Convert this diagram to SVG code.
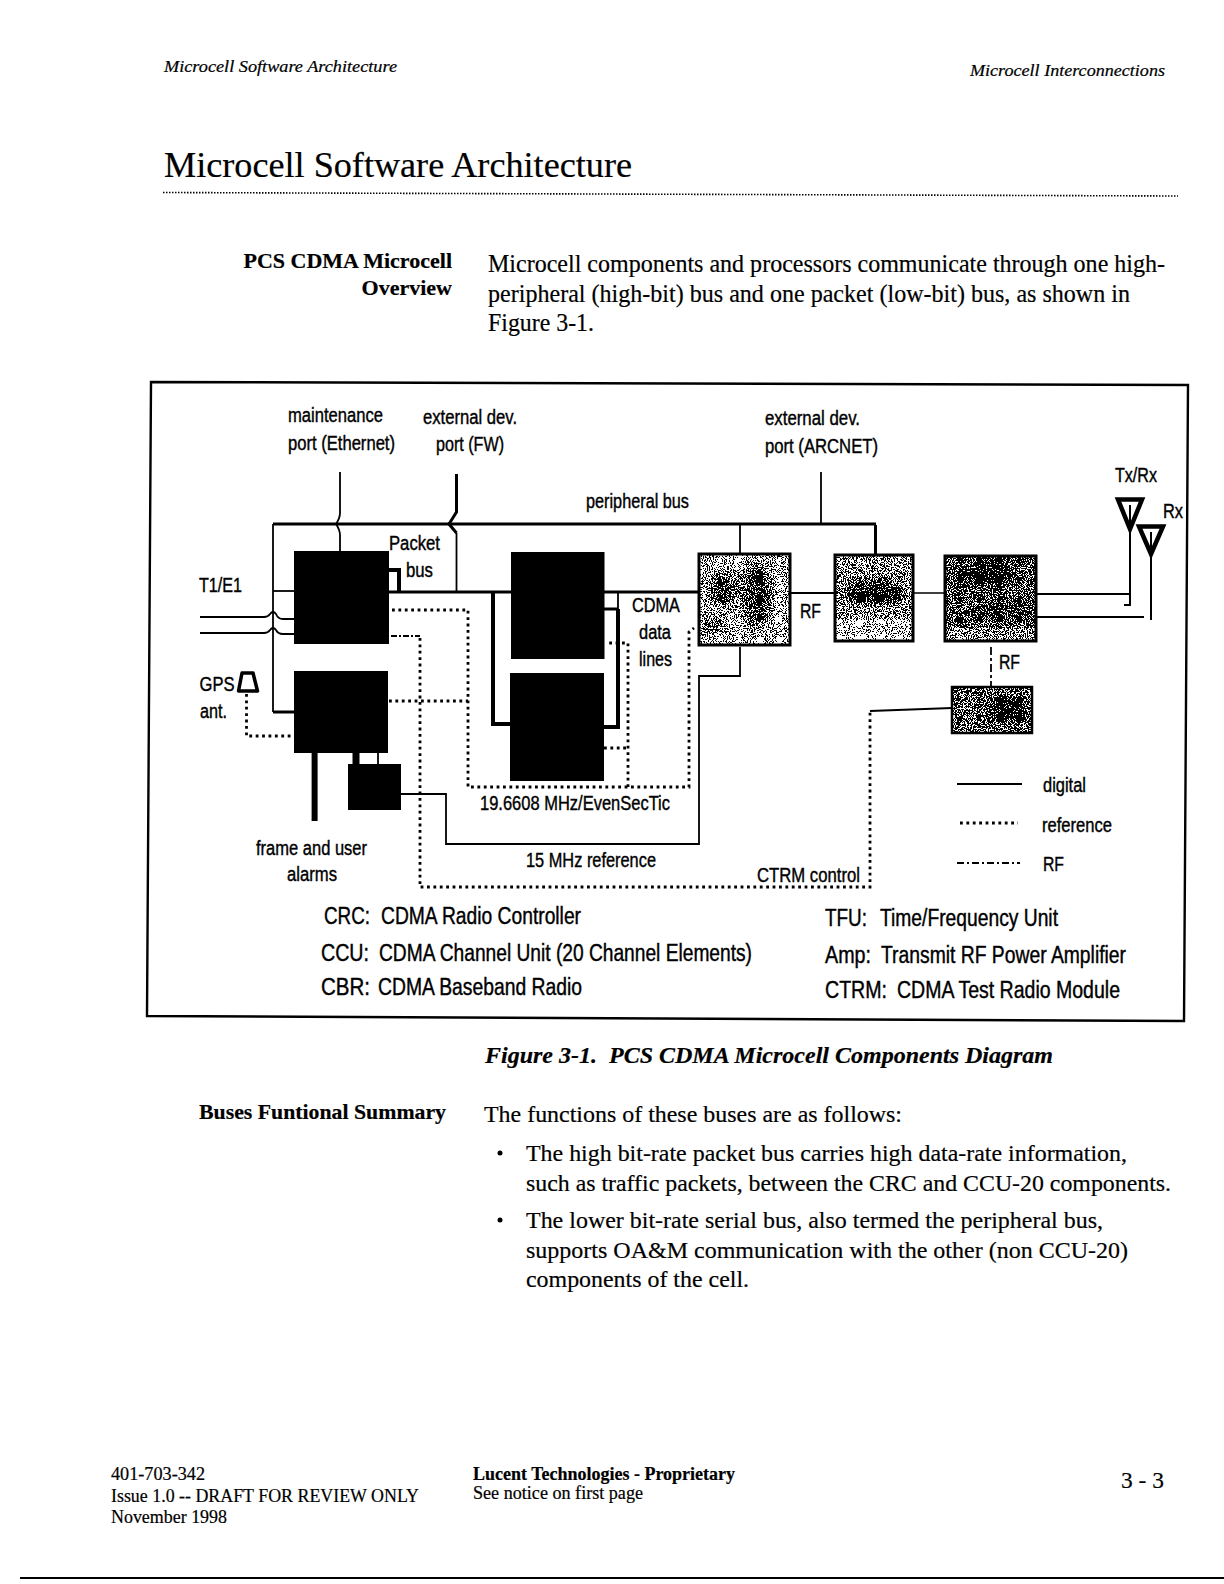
<svg xmlns="http://www.w3.org/2000/svg" width="1224" height="1584" viewBox="0 0 1224 1584">
<defs>
<style>
text{fill:#000;white-space:pre}
.s{font-family:"Liberation Serif","Times New Roman",serif;stroke:#000;stroke-width:.2}
.h{font-family:"Liberation Sans",Arial,sans-serif;font-size:20px;stroke:#000;stroke-width:.4}
.l{font-family:"Liberation Sans",Arial,sans-serif;font-size:23px;stroke:#000;stroke-width:.4}
.w{fill:none;stroke:#000;stroke-linejoin:miter}
.t1{stroke-width:1.5}.t2{stroke-width:1.8}.t3{stroke-width:3}.t4{stroke-width:4}
.dot{fill:none;stroke:#000;stroke-width:2.8;stroke-dasharray:2.8 3.6}
.blk{fill:#000}
.frame{fill:none;stroke:#000;stroke-width:2.4}
</style>
<filter id="stipple" x="0" y="0" width="1" height="1" color-interpolation-filters="sRGB">
<feTurbulence type="fractalNoise" baseFrequency="0.95" numOctaves="1" seed="4" result="n"/>
<feColorMatrix in="n" type="matrix" values="3 0 0 0 -1 3 0 0 0 -1 3 0 0 0 -1 0 0 0 0 1" result="g"/>
<feComposite in="SourceGraphic" in2="g" operator="arithmetic" k1="0" k2="1" k3="1" k4="-0.5" result="sum"/>
<feComponentTransfer in="sum">
<feFuncR type="discrete" tableValues="0 1"/>
<feFuncG type="discrete" tableValues="0 1"/>
<feFuncB type="discrete" tableValues="0 1"/>
<feFuncA type="linear" slope="0" intercept="1"/>
</feComponentTransfer>
</filter>
<filter id="soft"><feGaussianBlur stdDeviation="5"/></filter>
</defs>
<rect width="1224" height="1584" fill="#fff"/>

<g id="page-header">
<text class="s" x="164" y="72" font-size="16.5" font-style="italic" textLength="233" lengthAdjust="spacingAndGlyphs">Microcell Software Architecture</text>
<text class="s" x="970" y="76" font-size="16.5" font-style="italic" textLength="195" lengthAdjust="spacingAndGlyphs">Microcell Interconnections</text>
<text class="s" x="164" y="177" font-size="36" textLength="468" lengthAdjust="spacingAndGlyphs">Microcell Software Architecture</text>
<path d="M163 192.500L1178 196" fill="none" stroke="#000" stroke-width="1.600" stroke-dasharray="1.500 1.500"/>
<text class="s" x="452" y="268" font-size="22" font-weight="bold" text-anchor="end">PCS CDMA Microcell</text>
<text class="s" x="452" y="295" font-size="22" font-weight="bold" text-anchor="end">Overview</text>
<text class="s" x="488" y="272" font-size="25" textLength="677" lengthAdjust="spacingAndGlyphs">Microcell components and processors communicate through one high-</text>
<text class="s" x="488" y="302" font-size="25" textLength="642" lengthAdjust="spacingAndGlyphs">peripheral (high-bit) bus and one packet (low-bit) bus, as shown in</text>
<text class="s" x="488" y="331" font-size="25" textLength="106" lengthAdjust="spacingAndGlyphs">Figure 3-1.</text>
</g>

<path id="figure-frame" class="frame" d="M151 382L1188 385L1184 1021L147 1016Z"/>

<g id="connectors">
<path class="w t3" d="M273 524H876"/>
<path class="w t2" d="M273 524V712"/><path class="w t3" d="M273 712H294"/>
<path class="w t2" d="M273 591H294"/>
<path class="w t2" d="M200 617H264Q268 617 270 614Q273 610 276 614Q278 619 283 619H294"/>
<path class="w t2" d="M200 633H264Q268 633 270 630Q273 626 276 630Q278 634 283 634H294"/>
<path class="w t2" d="M340 472V513Q340 518 336 524Q340 530 340 535V551"/>
<path class="w t3" d="M456.500 474V512L449 524L456.500 533"/><path class="w t2" d="M456.500 533V591"/>
<path class="w t3" d="M389 592H698"/>
<path class="w t4" d="M389 570H399V592"/>
<path class="w t4" d="M493 592V724H511"/>
<path class="w t2" d="M604 592H618V609"/><path class="w t3" d="M604 609H618"/><path class="w t4" d="M618 609V727H604"/>
<path class="dot" d="M392 610H468V787H689V632L694 628"/>
<path class="dot" d="M389 701H468"/>
<path class="w t2" d="M391 636H420" stroke-dasharray="6 2 2 2"/>
<path class="dot" d="M420 638V887H870V711"/>
<path class="w t2" d="M870 711L952 708"/>
<path class="dot" d="M628 787V643H609"/>
<path class="dot" d="M604 748H628"/>
<path class="w" stroke-width="7" d="M356 753V764"/>
<path class="w t2" d="M378 753V764"/>
<path class="w" stroke-width="6" d="M314.600 753V821"/>
<path class="dot" d="M246.500 694V736H294"/>
<path class="w t2" d="M401 794H446V844H699V676H740V647"/>
<path class="w t2" d="M740 525V553"/>
<path class="w t3" d="M875.500 525V554"/>
<path class="w t2" d="M821 472V525"/>
<path class="w t2" d="M791 593H834"/>
<path class="w t1" d="M913 593H944"/>
<path class="w t2" d="M1036 594H1130V605H1124"/>
<path class="w t2" d="M1036 617H1144"/>
<path class="w t2" d="M991 647V687" stroke-dasharray="8 3 3 3"/>
</g>

<g id="crc"><rect class="blk" x="294" y="551" width="95" height="93"/></g>
<g id="cbr"><rect class="blk" x="294" y="671" width="94" height="82"/></g>
<g id="ccu-1"><rect class="blk" x="511" y="552" width="93.500" height="107"/></g>
<g id="ccu-2"><rect class="blk" x="510" y="673" width="94" height="108"/></g>
<g id="alarm-box"><rect class="blk" x="348" y="764" width="53" height="46"/></g>

<g id="gps-antenna"><path d="M242 673H253L257.500 691H238.500Z" fill="#fff" stroke="#000" stroke-width="3.500" stroke-linejoin="round"/></g>

<g id="tfu">
<g filter="url(#stipple)">
<rect x="699" y="554" width="91" height="91" fill="#a0a0a0"/>
<ellipse cx="725" cy="590" rx="16" ry="16" fill="#484848" filter="url(#soft)"/>
<ellipse cx="757" cy="595" rx="14" ry="32" fill="#404040" filter="url(#soft)"/>
<ellipse cx="712" cy="625" rx="12" ry="8" fill="#555" filter="url(#soft)"/>
</g>
<rect x="699" y="554" width="91" height="91" fill="none" stroke="#000" stroke-width="3"/>
</g>
<g id="amp">
<g filter="url(#stipple)">
<rect x="835" y="555" width="78" height="86" fill="#8a8a8a"/>
<rect x="835" y="620" width="78" height="21" fill="#b8b8b8"/>
<ellipse cx="874" cy="592" rx="32" ry="12" fill="#303030" filter="url(#soft)"/>
<text x="874" y="600" font-family="'Liberation Sans',Arial,sans-serif" font-size="24" text-anchor="middle">Amp</text>
</g>
<rect x="835" y="555" width="78" height="86" fill="none" stroke="#000" stroke-width="3"/>
</g>
<g id="filter-combiner">
<g filter="url(#stipple)">
<rect x="945" y="556" width="91" height="85" fill="#5c5c5c"/>
<rect x="945" y="628" width="91" height="13" fill="#909090"/>
<ellipse cx="985" cy="574" rx="30" ry="14" fill="#282828" filter="url(#soft)"/>
<ellipse cx="1000" cy="612" rx="34" ry="8" fill="#383838" filter="url(#soft)"/>
</g>
<rect x="945" y="556" width="91" height="85" fill="none" stroke="#000" stroke-width="3"/>
</g>
<g id="ctrm">
<g filter="url(#stipple)">
<rect x="952" y="687" width="80" height="46" fill="#646464"/>
<ellipse cx="1008" cy="710" rx="18" ry="11" fill="#181818" filter="url(#soft)"/>
</g>
<rect x="952" y="687" width="80" height="46" fill="none" stroke="#000" stroke-width="2.500"/>
</g>

<g id="tx-rx-antenna">
<path d="M1118 499.500H1142L1130 529Z" fill="#fff" stroke="#000" stroke-width="4.500"/>
<path d="M1130 505V605" fill="none" stroke="#000" stroke-width="2"/>
</g>
<g id="rx-antenna">
<path d="M1139 526.500H1163L1151 554Z" fill="#fff" stroke="#000" stroke-width="4.500"/>
<path d="M1151 532V620" fill="none" stroke="#000" stroke-width="2"/>
</g>

<g id="labels">
<text class="h" x="288" y="422" textLength="95" lengthAdjust="spacingAndGlyphs">maintenance</text>
<text class="h" x="288" y="450" textLength="107" lengthAdjust="spacingAndGlyphs">port (Ethernet)</text>
<text class="h" x="423" y="424" textLength="94" lengthAdjust="spacingAndGlyphs">external dev.</text>
<text class="h" x="436" y="451" textLength="68" lengthAdjust="spacingAndGlyphs">port (FW)</text>
<text class="h" x="586" y="508" textLength="103" lengthAdjust="spacingAndGlyphs">peripheral bus</text>
<text class="h" x="765" y="425" textLength="95" lengthAdjust="spacingAndGlyphs">external dev.</text>
<text class="h" x="765" y="453" textLength="113" lengthAdjust="spacingAndGlyphs">port (ARCNET)</text>
<text class="h" x="1115" y="482" textLength="42" lengthAdjust="spacingAndGlyphs">Tx/Rx</text>
<text class="h" x="1163" y="518" textLength="20" lengthAdjust="spacingAndGlyphs">Rx</text>
<text class="h" x="389" y="550" textLength="51" lengthAdjust="spacingAndGlyphs">Packet</text>
<text class="h" x="406" y="577" textLength="27" lengthAdjust="spacingAndGlyphs">bus</text>
<text class="h" x="199" y="592" textLength="43" lengthAdjust="spacingAndGlyphs">T1/E1</text>
<text class="h" x="199.500" y="691" textLength="35" lengthAdjust="spacingAndGlyphs">GPS</text>
<text class="h" x="200" y="718" textLength="27" lengthAdjust="spacingAndGlyphs">ant.</text>
<text class="h" x="632" y="612" textLength="48" lengthAdjust="spacingAndGlyphs">CDMA</text>
<text class="h" x="639" y="639" textLength="32" lengthAdjust="spacingAndGlyphs">data</text>
<text class="h" x="639" y="666" textLength="33" lengthAdjust="spacingAndGlyphs">lines</text>
<text class="h" x="480" y="810" textLength="190" lengthAdjust="spacingAndGlyphs">19.6608 MHz/EvenSecTic</text>
<text class="h" x="526" y="867" textLength="130" lengthAdjust="spacingAndGlyphs">15 MHz reference</text>
<text class="h" x="256" y="855" textLength="111" lengthAdjust="spacingAndGlyphs">frame and user</text>
<text class="h" x="287" y="881" textLength="50" lengthAdjust="spacingAndGlyphs">alarms</text>
<text class="h" x="800" y="618" textLength="21" lengthAdjust="spacingAndGlyphs">RF</text>
<text class="h" x="999" y="669" textLength="21" lengthAdjust="spacingAndGlyphs">RF</text>
<text class="h" x="757" y="882" textLength="103" lengthAdjust="spacingAndGlyphs">CTRM control</text>
</g>

<g id="legend">
<path class="w t2" d="M957 784H1022"/>
<path class="dot" d="M960 823H1018"/>
<path class="w t2" d="M957 863H1020" stroke-dasharray="7 3 2 3"/>
<text class="h" x="1043" y="792" textLength="43" lengthAdjust="spacingAndGlyphs">digital</text>
<text class="h" x="1042" y="832" textLength="70" lengthAdjust="spacingAndGlyphs">reference</text>
<text class="h" x="1043" y="871" textLength="21" lengthAdjust="spacingAndGlyphs">RF</text>
<text class="l" x="324" y="924" textLength="46" lengthAdjust="spacingAndGlyphs">CRC:</text>
<text class="l" x="381" y="924" textLength="200" lengthAdjust="spacingAndGlyphs">CDMA Radio Controller</text>
<text class="l" x="321" y="961" textLength="48" lengthAdjust="spacingAndGlyphs">CCU:</text>
<text class="l" x="379" y="961" textLength="373" lengthAdjust="spacingAndGlyphs">CDMA Channel Unit (20 Channel Elements)</text>
<text class="l" x="321" y="995" textLength="49" lengthAdjust="spacingAndGlyphs">CBR:</text>
<text class="l" x="378" y="995" textLength="204" lengthAdjust="spacingAndGlyphs">CDMA Baseband Radio</text>
<text class="l" x="825" y="926" textLength="42" lengthAdjust="spacingAndGlyphs">TFU:</text>
<text class="l" x="880" y="926" textLength="178" lengthAdjust="spacingAndGlyphs">Time/Frequency Unit</text>
<text class="l" x="825" y="963" textLength="46" lengthAdjust="spacingAndGlyphs">Amp:</text>
<text class="l" x="881" y="963" textLength="245" lengthAdjust="spacingAndGlyphs">Transmit RF Power Amplifier</text>
<text class="l" x="825" y="998" textLength="62" lengthAdjust="spacingAndGlyphs">CTRM:</text>
<text class="l" x="897" y="998" textLength="223" lengthAdjust="spacingAndGlyphs">CDMA Test Radio Module</text>
</g>

<g id="page-body">
<text class="s" x="485" y="1063" font-size="24" font-weight="bold" font-style="italic" textLength="568" lengthAdjust="spacingAndGlyphs">Figure 3-1.  PCS CDMA Microcell Components Diagram</text>
<text class="s" x="199" y="1119" font-size="22" font-weight="bold" textLength="247" lengthAdjust="spacingAndGlyphs">Buses Funtional Summary</text>
<text class="s" x="484" y="1122" font-size="24" textLength="418" lengthAdjust="spacingAndGlyphs">The functions of these buses are as follows:</text>
<circle cx="500" cy="1153" r="2.500"/>
<circle cx="500" cy="1220" r="2.500"/>
<text class="s" x="526" y="1161" font-size="24" textLength="601" lengthAdjust="spacingAndGlyphs">The high bit-rate packet bus carries high data-rate information,</text>
<text class="s" x="526" y="1191" font-size="24" textLength="645" lengthAdjust="spacingAndGlyphs">such as traffic packets, between the CRC and CCU-20 components.</text>
<text class="s" x="526" y="1228" font-size="24" textLength="577" lengthAdjust="spacingAndGlyphs">The lower bit-rate serial bus, also termed the peripheral bus,</text>
<text class="s" x="526" y="1258" font-size="24" textLength="602" lengthAdjust="spacingAndGlyphs">supports OA&amp;M communication with the other (non CCU-20)</text>
<text class="s" x="526" y="1287" font-size="24" textLength="223" lengthAdjust="spacingAndGlyphs">components of the cell.</text>
</g>

<g id="page-footer">
<text class="s" x="111" y="1480" font-size="18" textLength="94" lengthAdjust="spacingAndGlyphs">401-703-342</text>
<text class="s" x="111" y="1502" font-size="18" textLength="308" lengthAdjust="spacingAndGlyphs">Issue 1.0 -- DRAFT FOR REVIEW ONLY</text>
<text class="s" x="111" y="1523" font-size="18" textLength="116" lengthAdjust="spacingAndGlyphs">November 1998</text>
<text class="s" x="473" y="1480" font-size="18" font-weight="bold" textLength="262" lengthAdjust="spacingAndGlyphs">Lucent Technologies - Proprietary</text>
<text class="s" x="473" y="1499" font-size="18" textLength="170" lengthAdjust="spacingAndGlyphs">See notice on first page</text>
<text class="s" x="1121" y="1488" font-size="24" textLength="43" lengthAdjust="spacingAndGlyphs">3 - 3</text>
<path d="M20 1578H1224" fill="none" stroke="#000" stroke-width="2"/>
</g>
</svg>
